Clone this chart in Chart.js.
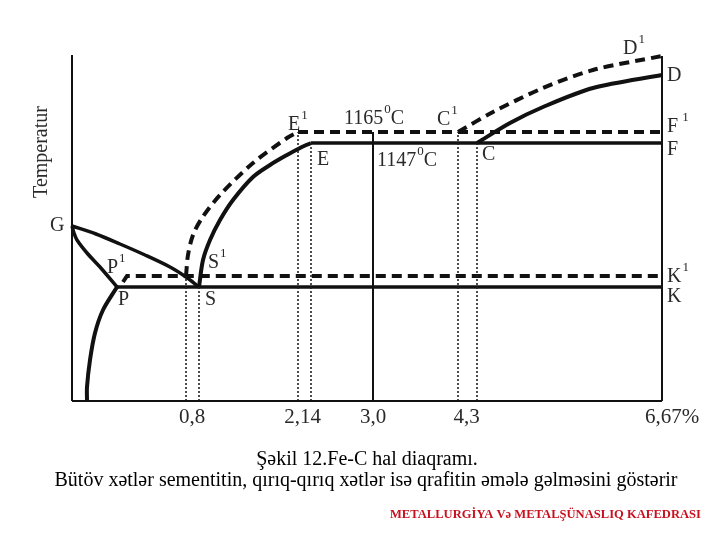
<!DOCTYPE html>
<html>
<head>
<meta charset="utf-8">
<script src="https://cdn.jsdelivr.net/npm/chart.js@4.4.1/dist/chart.umd.min.js"></script>
<style>
  html, body { margin: 0; padding: 0; background: #fff; }
  #wrap { position: relative; width: 720px; height: 540px; }
</style>
</head>
<body>
<div id="wrap"><canvas id="feC" width="720" height="540"></canvas></div>
<script>
// schematic units: x along carbon axis, y along temperature axis (not to scale)
var tickPositions = [120, 230.5, 301, 394.5, 600];
var tickLabels = ['0,8', '2,14', '3,0', '4,3', '6,67%'];

// frame
var axisY = [[0, 0], [0, 346]];
var axisX = [[0, 0], [590, 0]];
var rightEdge = [[590, 0], [590, 345]];
var line30 = [[301, 0], [301, 269]];

// solid lines (cementite system)
var lineGS = [[0, 175], [24, 167], [48, 157], [73, 146], [98, 134], [114, 124], [127, 114]];
var lineGP = [[0, 175], [2, 168], [5, 161], [15, 148], [28, 134], [45, 114]];
var linePQ = [[45, 114], [31, 91], [23, 68], [18, 41], [15, 14], [15, 0]];
var lineSE = [[127, 114], [131, 141], [138, 161], [148, 181], [161, 201], [181, 224], [198, 236], [215, 246], [228, 253], [239, 258]];
var lineCD = [[405, 258], [438, 278], [471, 294], [521, 313], [590, 326]];
var linePSK = [[45, 114], [590, 114]];
var lineECF = [[239, 258], [590, 258]];

// dashed lines (graphite system)
var lineP1K1 = [[51, 119], [55, 125], [590, 125]];
var lineE1F1 = [[226, 269], [590, 269]];
var lineS1E1 = [[114, 125], [116, 146], [121, 166], [130, 183], [148, 206], [181, 238], [215, 263], [226, 269]];
var lineC1D1 = [[386, 269], [421, 289], [471, 313], [521, 331], [590, 345]];

// dotted guides
var guides = [
  [[114, 0], [114, 125]],
  [[127, 0], [127, 114]],
  [[226, 0], [226, 269]],
  [[239, 0], [239, 258]],
  [[386, 0], [386, 269]],
  [[405, 0], [405, 258]]
];

// point names: text, superscript, trailing text, anchor (left x, middle y)
var pointLabels = [
  ['G', '', '', -22, 175],
  ['P', '1', '', 35, 133],
  ['P', '', '', 46, 101],
  ['S', '1', '', 136, 138],
  ['S', '', '', 133, 101],
  ['E', '1', '', 216, 276],
  ['E', '', '', 245, 241],
  ['1165', '0', 'C', 272, 282],
  ['1147', '0', 'C', 305, 240],
  ['C', '1', '', 365, 281],
  ['C', '', '', 410, 246],
  ['D', '1', '', 551, 352],
  ['D', '', '', 595, 325],
  ['F', ' 1', '', 595, 274],
  ['F', '', '', 595, 251],
  ['K', '1', '', 595, 124],
  ['K', '', '', 595, 104]
];

function pts(arr) {
  return arr.map(function (p) { return { x: p[0], y: p[1] }; });
}

function solid(arr, w, tension) {
  return { data: pts(arr), borderColor: '#111', borderWidth: w, tension: tension || 0, borderCapStyle: 'butt' };
}
function dashed(arr, tension) {
  return { data: pts(arr), borderColor: '#111', borderWidth: 4, borderDash: [10, 6], tension: tension || 0 };
}

var datasets = [
  solid(axisY, 2), solid(axisX, 2), solid(rightEdge, 2), solid(line30, 2)
];
guides.forEach(function (g) {
  datasets.push({ data: pts(g), borderColor: '#222', borderWidth: 1.6, borderDash: [2, 2] });
});
datasets.push(solid(linePSK, 3.5), solid(lineECF, 3.5));
datasets.push(solid(lineGS, 3.5, 0.3), solid(lineGP, 3.5, 0.3), solid(linePQ, 4, 0.3), solid(lineSE, 4, 0.3), solid(lineCD, 4, 0.3));
datasets.push(dashed(lineP1K1), dashed(lineE1F1), dashed(lineS1E1, 0.3), dashed(lineC1D1, 0.3));
datasets.forEach(function (d) { d.showLine = true; d.pointRadius = 0; d.fill = false; d.clip = false; });

var textPlugin = {
  id: 'diagramText',
  afterDatasetsDraw: function (chart) {
    var ctx = chart.ctx;
    var xs = chart.scales.x, ys = chart.scales.y;
    ctx.save();
    ctx.fillStyle = '#2a2a2a';
    ctx.textBaseline = 'middle';
    ctx.textAlign = 'left';
    pointLabels.forEach(function (l) {
      var x = xs.getPixelForValue(l[3]);
      var y = ys.getPixelForValue(l[4]);
      ctx.font = '20px "Liberation Serif", "Times New Roman", serif';
      ctx.fillText(l[0], x, y);
      x += ctx.measureText(l[0]).width + 1;
      if (l[1]) {
        ctx.font = '13px "Liberation Serif", "Times New Roman", serif';
        ctx.fillText(l[1], x, y - 9);
        x += ctx.measureText(l[1]).width;
      }
      if (l[2]) {
        ctx.font = '20px "Liberation Serif", "Times New Roman", serif';
        ctx.fillText(l[2], x, y);
      }
    });

    // axis name
    ctx.save();
    ctx.translate(42, 152);
    ctx.rotate(-Math.PI / 2);
    ctx.textAlign = 'center';
    ctx.font = '20px "Liberation Serif", "Times New Roman", serif';
    ctx.fillText('Temperatur', 0, 0);
    ctx.restore();

    // caption
    ctx.fillStyle = '#000';
    ctx.textAlign = 'center';
    ctx.font = '20px "Liberation Serif", "Times New Roman", serif';
    ctx.fillText('Şəkil 12.Fe-C hal diaqramı.', 367, 460, 222);
    ctx.fillText('Bütöv xətlər sementitin, qırıq-qırıq xətlər isə qrafitin əmələ gəlməsini göstərir', 366, 481, 623);
    ctx.fillStyle = '#c8101e';
    ctx.textAlign = 'right';
    ctx.font = 'bold 12.6px "Liberation Serif", "Times New Roman", serif';
    ctx.fillText('METALLURGİYA Və METALŞÜNASLIQ KAFEDRASI', 701, 515, 311);
    ctx.restore();
  }
};

new Chart(document.getElementById('feC').getContext('2d'), {
  type: 'scatter',
  data: { datasets: datasets },
  options: {
    responsive: false,
    animation: false,
    devicePixelRatio: 1,
    layout: { padding: { left: 72, right: 8, top: 40, bottom: 0 } },
    plugins: { legend: { display: false }, tooltip: { enabled: false } },
    scales: {
      x: {
        type: 'linear',
        min: 0,
        max: 640,
        grid: { display: false, drawTicks: false },
        border: { display: false },
        afterBuildTicks: function (scale) {
          scale.ticks = tickPositions.map(function (v) { return { value: v }; });
        },
        afterFit: function (scale) { scale.height = 139; },
        ticks: {
          autoSkip: false,
          maxRotation: 0,
          padding: 4,
          color: '#2a2a2a',
          font: { family: '"Liberation Serif", "Times New Roman", serif', size: 21 },
          callback: function (value) {
            var i = tickPositions.indexOf(value);
            return i >= 0 ? tickLabels[i] : '';
          }
        }
      },
      y: {
        type: 'linear',
        display: false,
        min: 0,
        max: 361
      }
    }
  },
  plugins: [textPlugin]
});
</script>
</body>
</html>
